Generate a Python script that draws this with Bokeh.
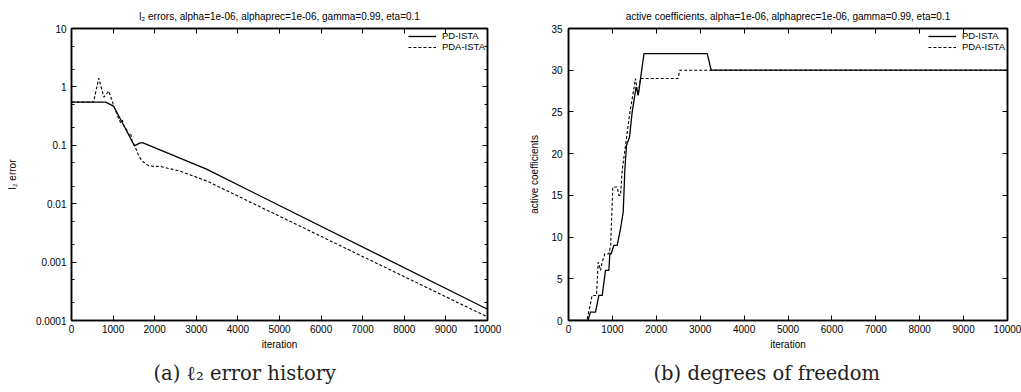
from bokeh.plotting import figure
from bokeh.models import (FixedTicker, LogAxis, LinearAxis, Title, Legend,
                          LegendItem, Range1d)
from bokeh.layouts import row
from bokeh.embed import file_html
from bokeh.resources import INLINE

# ---------------- data ----------------
# (a) l2 error history
err_pd_iter = [0, 820, 1010, 1200, 1400, 1510, 1580, 1650, 1720, 3245, 10000]
err_pd_val = [0.55, 0.55, 0.47, 0.26, 0.14, 0.098, 0.104, 0.11, 0.11, 0.039, 0.000156]

err_pda_iter = [0, 530, 656, 777, 897, 1017, 1100, 1178, 1220, 1258, 1300, 1380,
                1420, 1458, 1538, 1620, 1699, 1780, 1859, 2000, 2139, 2620, 3245, 10000]
err_pda_val = [0.55, 0.55, 1.41, 0.67, 0.85, 0.47, 0.33, 0.245, 0.27, 0.215, 0.2, 0.15,
               0.16, 0.119, 0.091, 0.065, 0.054, 0.048, 0.0445, 0.0435, 0.0434, 0.036, 0.0246, 0.000115]

# (b) active coefficients
act_pd_iter = [0, 441, 501, 615, 691, 768, 843, 919, 942, 973, 1033, 1109, 1185, 1246,
               1283, 1322, 1390, 1451, 1540, 1590, 1641, 1720, 3160, 3250, 10000]
act_pd_val = [0, 0, 1, 1, 3, 3, 6, 6, 8, 8, 9, 9, 11, 13, 18, 21, 22, 25, 28, 27, 29, 32, 32, 30, 30]

act_pda_iter = [0, 420, 539, 638, 676, 730, 768, 827, 919, 960, 1010, 1109, 1147, 1185,
                1223, 1299, 1400, 1527, 1580, 1641, 2492, 2538, 10000]
act_pda_val = [0, 0, 3, 3, 7, 6, 7, 8, 8, 9, 16, 16, 15, 15, 18, 21, 25, 29, 27, 29, 29, 30, 30]

series_names = ["PD-ISTA", "PDA-ISTA"]

x_ticks = [0, 1000, 2000, 3000, 4000, 5000, 6000, 7000, 8000, 9000, 10000]
err_ticks = [0.0001, 0.001, 0.01, 0.1, 1, 10]
err_tick_labels = ["0.0001", "0.001", "0.01", "0.1", "1", "10"]
err_minor_mult = [2, 5]
act_ticks = [0, 5, 10, 15, 20, 25, 30, 35]

title_a = "l\u2082 errors, alpha=1e-06, alphaprec=1e-06, gamma=0.99, eta=0.1"
title_b = "active coefficients, alpha=1e-06, alphaprec=1e-06, gamma=0.99, eta=0.1"
ylabel_a = "l\u2082 error"
ylabel_b = "active coefficients"
xlabel = "iteration"
caption_a = "(a) \u2113\u2082 error history"
caption_b = "(b) degrees of freedom"

SANS = "Liberation Sans"
SERIF = "DejaVu Serif"


def style_axis(ax, labels=True, standoff=5, label_standoff=5):
    ax.axis_line_color = "black"
    ax.axis_line_width = 1.5
    ax.major_tick_line_color = "black"
    ax.major_tick_in = 5
    ax.major_tick_out = 0
    ax.minor_tick_line_color = "black"
    ax.minor_tick_in = 3
    ax.minor_tick_out = 0
    ax.major_label_text_font = SANS
    ax.major_label_text_color = "black"
    ax.axis_label_text_font = SANS
    ax.axis_label_text_font_style = "normal"
    ax.axis_label_text_font_size = "10px"
    ax.axis_label_text_color = "black"
    ax.major_label_standoff = standoff
    ax.axis_label_standoff = label_standoff
    ax.major_label_text_font_size = "10px"
    if not labels:
        ax.major_label_text_font_size = "1px"
        ax.major_label_text_alpha = 0
        ax.major_label_standoff = 0
        ax.axis_label_standoff = 0


def make_fig(width, y_type, y_range, yticker, min_left, min_right, title, ylabel,
             y_std, y_lab_std, caption, cap_offset):
    p = figure(width=width, height=392, x_range=Range1d(0, 10000), y_range=y_range,
               y_axis_type=y_type, output_backend="svg", toolbar_location=None,
               min_border_left=min_left, min_border_right=min_right,
               min_border_top=28, min_border_bottom=72)
    p.background_fill_color = "white"
    p.border_fill_color = "white"
    p.outline_line_color = "black"
    p.outline_line_width = 1.5
    p.grid.visible = False
    p.title.text = title
    p.title.align = "center"
    p.title.text_font = SANS
    p.title.text_font_style = "normal"
    p.title.text_font_size = "10px"
    p.title.text_color = "black"
    p.title.standoff = 13

    xt = FixedTicker(ticks=x_ticks)
    p.xaxis.ticker = xt
    p.xaxis.axis_label = xlabel
    p.yaxis.ticker = yticker
    p.yaxis.axis_label = ylabel
    for ax in p.xaxis:
        style_axis(ax, True, 4, 3)
    for ax in p.yaxis:
        style_axis(ax, True, y_std, y_lab_std)

    top = LinearAxis(ticker=xt)
    style_axis(top, False)
    p.add_layout(top, "above")
    if y_type == "log":
        right = LogAxis(ticker=yticker)
    else:
        right = LinearAxis(ticker=yticker)
    style_axis(right, False)
    p.add_layout(right, "right")

    cap = Title(text=caption, align="left", offset=cap_offset, text_font=SERIF,
                text_font_size="19.5px", text_font_style="normal", text_color="#222222",
                standoff=15)
    p.add_layout(cap, "below")
    return p


def add_lines(p, xs1, ys1, xs2, ys2):
    r1 = p.line(xs1, ys1, line_color="black", line_width=1.3)
    r2 = p.line(xs2, ys2, line_color="black", line_width=1.1, line_dash="3 2")
    leg = Legend(items=[LegendItem(label=series_names[0], renderers=[r1]),
                        LegendItem(label=series_names[1], renderers=[r2])],
                 location="top_right", border_line_color=None,
                 background_fill_alpha=0, label_text_font=SANS,
                 label_text_color="black",
                 label_text_font_size="9.5px", glyph_width=28, glyph_height=10,
                 label_height=10, spacing=0, padding=2, margin=2, label_standoff=6)
    p.add_layout(leg)


err_ticker = FixedTicker(ticks=err_ticks,
                         minor_ticks=[m * t for t in err_ticks[:-1] for m in err_minor_mult])
p1 = make_fig(510, "log", Range1d(err_ticks[0], err_ticks[-1]), err_ticker, 71, 23,
              title_a, ylabel_a, 5, 15, caption_a, 82)
p1.yaxis[0].major_label_overrides = dict(zip(err_ticks, err_tick_labels))
add_lines(p1, err_pd_iter, err_pd_val, err_pda_iter, err_pda_val)

act_ticker = FixedTicker(ticks=act_ticks)
p2 = make_fig(511, "linear", Range1d(act_ticks[0], act_ticks[-1]), act_ticker, 58, 14,
              title_b, ylabel_b, 6, 8, caption_b, 85)
add_lines(p2, act_pd_iter, act_pd_val, act_pda_iter, act_pda_val)

layout = row(p1, p2)
open("out.html", "w").write(file_html(layout, INLINE))
